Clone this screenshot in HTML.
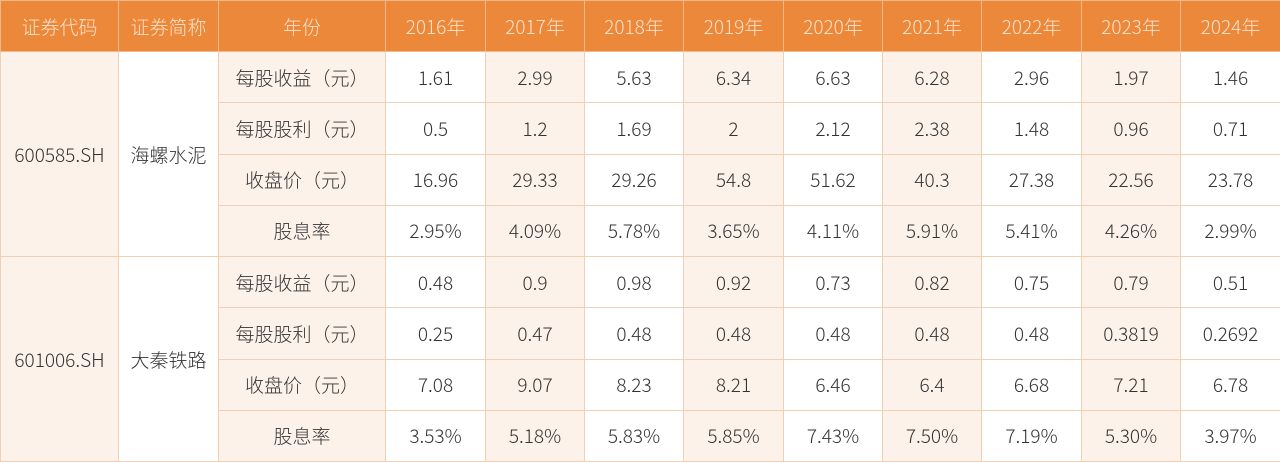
<!DOCTYPE html>
<html><head><meta charset="utf-8"><style>
html,body{margin:0;padding:0;background:#fff;}
table{border-collapse:collapse;table-layout:fixed;width:1280px;height:462px;font-family:"Noto Sans CJK SC","Liberation Sans",sans-serif;font-size:19px;font-weight:300;color:#333;}
td,th{border:1.5px solid #f0cfb3;text-align:center;padding:0;font-weight:300;}
th{background:#ec8839;color:#fde2cc;height:50px;border-color:#f3b98a;}
td{height:50px;}
.s{background:#fdf2ea;}
</style></head><body>
<table>
<colgroup><col style="width:118px"><col style="width:100px"><col style="width:167px"><col style="width:100px"><col style="width:99px"><col style="width:99px"><col style="width:100px"><col style="width:99px"><col style="width:99px"><col style="width:100px"><col style="width:99px"><col style="width:100px"></colgroup>
<tr><th>证券代码</th><th>证券简称</th><th>年份</th><th>2016年</th><th>2017年</th><th>2018年</th><th>2019年</th><th>2020年</th><th>2021年</th><th>2022年</th><th>2023年</th><th>2024年</th></tr>
<tr><td rowspan="4" class="s">600585.SH</td><td rowspan="4">海螺水泥</td><td class="s">每股收益（元）</td><td>1.61</td><td class="s">2.99</td><td>5.63</td><td class="s">6.34</td><td>6.63</td><td class="s">6.28</td><td>2.96</td><td class="s">1.97</td><td>1.46</td></tr>
<tr><td class="s">每股股利（元）</td><td>0.5</td><td class="s">1.2</td><td>1.69</td><td class="s">2</td><td>2.12</td><td class="s">2.38</td><td>1.48</td><td class="s">0.96</td><td>0.71</td></tr>
<tr><td class="s">收盘价（元）</td><td>16.96</td><td class="s">29.33</td><td>29.26</td><td class="s">54.8</td><td>51.62</td><td class="s">40.3</td><td>27.38</td><td class="s">22.56</td><td>23.78</td></tr>
<tr><td class="s">股息率</td><td>2.95%</td><td class="s">4.09%</td><td>5.78%</td><td class="s">3.65%</td><td>4.11%</td><td class="s">5.91%</td><td>5.41%</td><td class="s">4.26%</td><td>2.99%</td></tr>
<tr><td rowspan="4" class="s">601006.SH</td><td rowspan="4">大秦铁路</td><td class="s">每股收益（元）</td><td>0.48</td><td class="s">0.9</td><td>0.98</td><td class="s">0.92</td><td>0.73</td><td class="s">0.82</td><td>0.75</td><td class="s">0.79</td><td>0.51</td></tr>
<tr><td class="s">每股股利（元）</td><td>0.25</td><td class="s">0.47</td><td>0.48</td><td class="s">0.48</td><td>0.48</td><td class="s">0.48</td><td>0.48</td><td class="s">0.3819</td><td>0.2692</td></tr>
<tr><td class="s">收盘价（元）</td><td>7.08</td><td class="s">9.07</td><td>8.23</td><td class="s">8.21</td><td>6.46</td><td class="s">6.4</td><td>6.68</td><td class="s">7.21</td><td>6.78</td></tr>
<tr><td class="s">股息率</td><td>3.53%</td><td class="s">5.18%</td><td>5.83%</td><td class="s">5.85%</td><td>7.43%</td><td class="s">7.50%</td><td>7.19%</td><td class="s">5.30%</td><td>3.97%</td></tr>
</table>
</body></html>
